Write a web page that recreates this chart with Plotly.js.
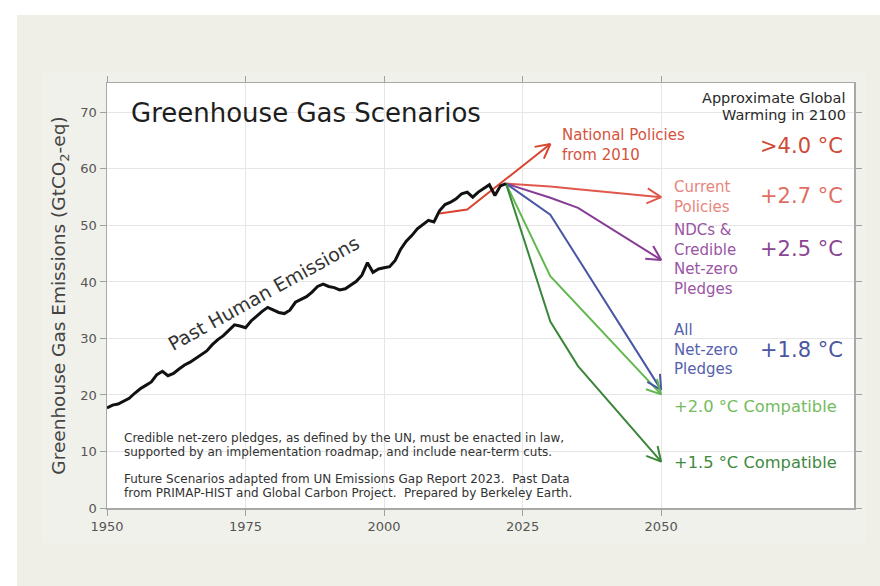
<!DOCTYPE html>
<html>
<head>
<meta charset="utf-8">
<script src="https://cdn.plot.ly/plotly-3.0.1.min.js"></script>
<style>html,body{margin:0;padding:0;background:#fff;}#chart{width:880px;height:586px;}</style>
</head>
<body>
<div id="chart"></div>
<script>
// ---------- DATA ----------
const histYears = [1950,1951,1952,1953,1954,1955,1956,1957,1958,1959,
  1960,1961,1962,1963,1964,1965,1966,1967,1968,1969,
  1970,1971,1972,1973,1974,1975,1976,1977,1978,1979,
  1980,1981,1982,1983,1984,1985,1986,1987,1988,1989,
  1990,1991,1992,1993,1994,1995,1996,1997,1998,1999,
  2000,2001,2002,2003,2004,2005,2006,2007,2008,2009,
  2010,2011,2012,2013,2014,2015,2016,2017,2018,2019,
  2020,2021,2022];
const histValues = [17.7,18.2,18.4,18.9,19.4,20.3,21.1,21.7,22.3,23.6,
  24.2,23.4,23.8,24.6,25.3,25.8,26.5,27.1,27.8,28.9,
  29.8,30.5,31.4,32.4,32.2,31.9,33.1,34.0,34.8,35.5,
  35.0,34.6,34.4,35.0,36.4,36.9,37.4,38.2,39.2,39.6,
  39.2,39.0,38.6,38.8,39.4,40.1,41.2,43.4,41.7,42.3,
  42.5,42.7,43.8,45.8,47.2,48.2,49.4,50.2,50.9,50.6,
  52.6,53.7,54.1,54.7,55.6,55.9,55.0,55.9,56.6,57.2,
  55.3,57.0,57.4];

const natlYears = [2010, 2015, 2030];
const natlValues = [52.1, 52.8, 64.4];

const currentYears = [2022, 2030, 2035, 2050];
const currentValues = [57.4, 56.9, 56.4, 55.0];

const ndcYears = [2022, 2030, 2035, 2050];
const ndcValues = [57.4, 54.9, 53.1, 43.9];

const allNzYears = [2022, 2030, 2050];
const allNzValues = [57.4, 51.9, 20.9];

const c20Years = [2022, 2030, 2050];
const c20Values = [57.4, 41.0, 20.1];

const c15Years = [2022, 2030, 2035, 2050];
const c15Values = [57.4, 33.0, 25.1, 8.2];

const xTickVals = [1950, 1975, 2000, 2025, 2050];
const yTickVals = [0, 10, 20, 30, 40, 50, 60, 70];

// ---------- LAYOUT CONSTANTS ----------
const W = 880, H = 586;
const M = {l: 107, r: 26, t: 83, b: 78};
const xRange = [1950, 2084.8];
const yRange = [0, 75.2];
const FONT = 'DejaVu Sans';

const C = {
  natl: '#d8442f', current: '#e0584b', ndc: '#873c95', allnz: '#4a55a5',
  c20: '#62b84f', c15: '#3a873a'
};

const plotW = W - M.l - M.r, plotH = H - M.t - M.b;
const pxX = plotW / (xRange[1] - xRange[0]);
const pxY = plotH / (yRange[1] - yRange[0]);

function lineTrace(xs, ys, color, width) {
  return {x: xs, y: ys, type: 'scatter', mode: 'lines',
    line: {color: color, width: width}, hoverinfo: 'skip', showlegend: false};
}
// open chevron arrowhead at the last point of a series
function chevron(xs, ys, color) {
  const n = xs.length;
  const xa = xs[n-2], ya = ys[n-2], xb = xs[n-1], yb = ys[n-1];
  let dx = (xb - xa) * pxX, dy = (yb - ya) * pxY;
  const len = Math.hypot(dx, dy); dx /= len; dy /= len;
  const L = 16, th = 28 * Math.PI / 180;
  const pts = [th, -th].map(a => {
    const rx = dx * Math.cos(a) - dy * Math.sin(a);
    const ry = dx * Math.sin(a) + dy * Math.cos(a);
    return [xb - L * rx / pxX, yb - L * ry / pxY];
  });
  return lineTrace([pts[0][0], xb, pts[1][0]], [pts[0][1], yb, pts[1][1]], color, 2);
}

const series = [
  [natlYears, natlValues, C.natl],
  [currentYears, currentValues, C.current],
  [ndcYears, ndcValues, C.ndc],
  [allNzYears, allNzValues, C.allnz],
  [c20Years, c20Values, C.c20],
  [c15Years, c15Values, C.c15]
];
const traces = [];
series.forEach(s => { traces.push(lineTrace(s[0], s[1], s[2], 2)); });
series.forEach(s => { traces.push(chevron(s[0], s[1], s[2])); });
traces.push(lineTrace(histYears, histValues, '#111111', 3));

function ann(text, x, y, size, color, xanchor, extra) {
  return Object.assign({text: text, x: x, y: y, xref: 'x', yref: 'y',
    showarrow: false, xanchor: xanchor || 'left', yanchor: 'middle',
    align: xanchor === 'right' ? 'right' : 'left',
    font: {family: FONT, size: size, color: color}}, extra || {});
}

const annotations = [
  ann('Greenhouse Gas Scenarios', 1954.0, 69.9, 26, '#1e1e1e', 'left'),
  ann('Approximate Global', 2083.8, 72.5, 14.5, '#2a2a2a', 'right'),
  ann('Warming in 2100', 2083.8, 69.6, 14.5, '#2a2a2a', 'right'),
  ann('National Policies<br>from 2010', 2031.8, 64.2, 15, '#d5533d', 'left'),
  ann('>4.0 °C', 2083.2, 64.1, 21, '#d04a35', 'right'),
  ann('Current<br>Policies', 2052.0, 55.0, 15, '#e8857c', 'left'),
  ann('+2.7 °C', 2083.2, 55.2, 21, '#e06e62', 'right'),
  ann('NDCs &<br>Credible<br>Net-zero<br>Pledges', 2052.0, 44.05, 15, '#9a55a5', 'left'),
  ann('+2.5 °C', 2083.2, 45.9, 21, '#8a4494', 'right'),
  ann('All<br>Net-zero<br>Pledges', 2052.0, 28.0, 15, '#5661ad', 'left'),
  ann('+1.8 °C', 2083.2, 27.9, 21, '#4b55a0', 'right'),
  ann('+2.0 °C Compatible', 2052.0, 18.0, 16.3, '#74bb5e', 'left'),
  ann('+1.5 °C Compatible', 2052.0, 8.1, 16.3, '#3f8a3f', 'left'),
  ann('Credible net-zero pledges, as defined by the UN, must be enacted in law,', 1952.7, 12.45, 12, '#333333', 'left'),
  ann('supported by an implementation roadmap, and include near-term cuts.', 1952.7, 9.95, 12, '#333333', 'left'),
  ann('Future Scenarios adapted from UN Emissions Gap Report 2023.  Past Data', 1952.7, 5.2, 12, '#333333', 'left'),
  ann('from PRIMAP-HIST and Global Carbon Project.  Prepared by Berkeley Earth.', 1952.7, 2.7, 12, '#333333', 'left'),
  ann('Past Human Emissions', 1978.3, 38.1, 19, '#333333', 'center', {textangle: -29})
];

const shapes = [
  {type: 'rect', xref: 'paper', yref: 'paper', layer: 'below', line: {width: 0},
   x0: -M.l / plotW, x1: (W - M.l) / plotW, y0: (H - M.t - 10) / plotH, y1: (H - M.t + 20) / plotH, fillcolor: '#ffffff'},
  {type: 'rect', xref: 'paper', yref: 'paper', layer: 'below', line: {width: 0},
   x0: -M.l / plotW, x1: (17 - M.l) / plotW, y0: -M.b / plotH, y1: (H - M.t) / plotH, fillcolor: '#ffffff'},
  {type: 'rect', xref: 'paper', yref: 'paper', layer: 'below', line: {width: 0},
   x0: (42 - M.l) / plotW, x1: (866 - M.l) / plotW, y0: (H - M.t - 538) / plotH, y1: (H - M.t - 68) / plotH, fillcolor: '#f1f1eb'},
  {type: 'rect', xref: 'paper', yref: 'paper', layer: 'below', line: {width: 0},
   x0: 0, x1: 1, y0: 0, y1: 1, fillcolor: '#ffffff'}
];

const axisCommon = {
  showline: true, linecolor: '#a8a8a8', linewidth: 1.5, mirror: 'ticks',
  ticks: 'outside', ticklen: 6, tickwidth: 1, tickcolor: '#a0a0a0',
  showgrid: true, gridcolor: '#e6e6e6', gridwidth: 1, zeroline: false,
  tickfont: {family: FONT, size: 13, color: '#555555'}, fixedrange: true
};

const layout = {
  width: W, height: H,
  margin: M,
  paper_bgcolor: '#efefe7', plot_bgcolor: '#ffffff',
  font: {family: FONT},
  showlegend: false,
  xaxis: Object.assign({}, axisCommon, {range: xRange, tickmode: 'array', tickvals: xTickVals,
    ticktext: xTickVals.map(String)}),
  yaxis: Object.assign({}, axisCommon, {range: yRange, tickmode: 'array', tickvals: yTickVals,
    ticktext: yTickVals.map(String),
    title: {text: 'Greenhouse Gas Emissions (GtCO<sub>2</sub>-eq)', standoff: 10,
      font: {family: FONT, size: 18.5, color: '#444444'}}}),
  annotations: annotations,
  shapes: shapes
};

Plotly.newPlot('chart', traces, layout, {staticPlot: true, displayModeBar: false});
</script>
</body>
</html>
